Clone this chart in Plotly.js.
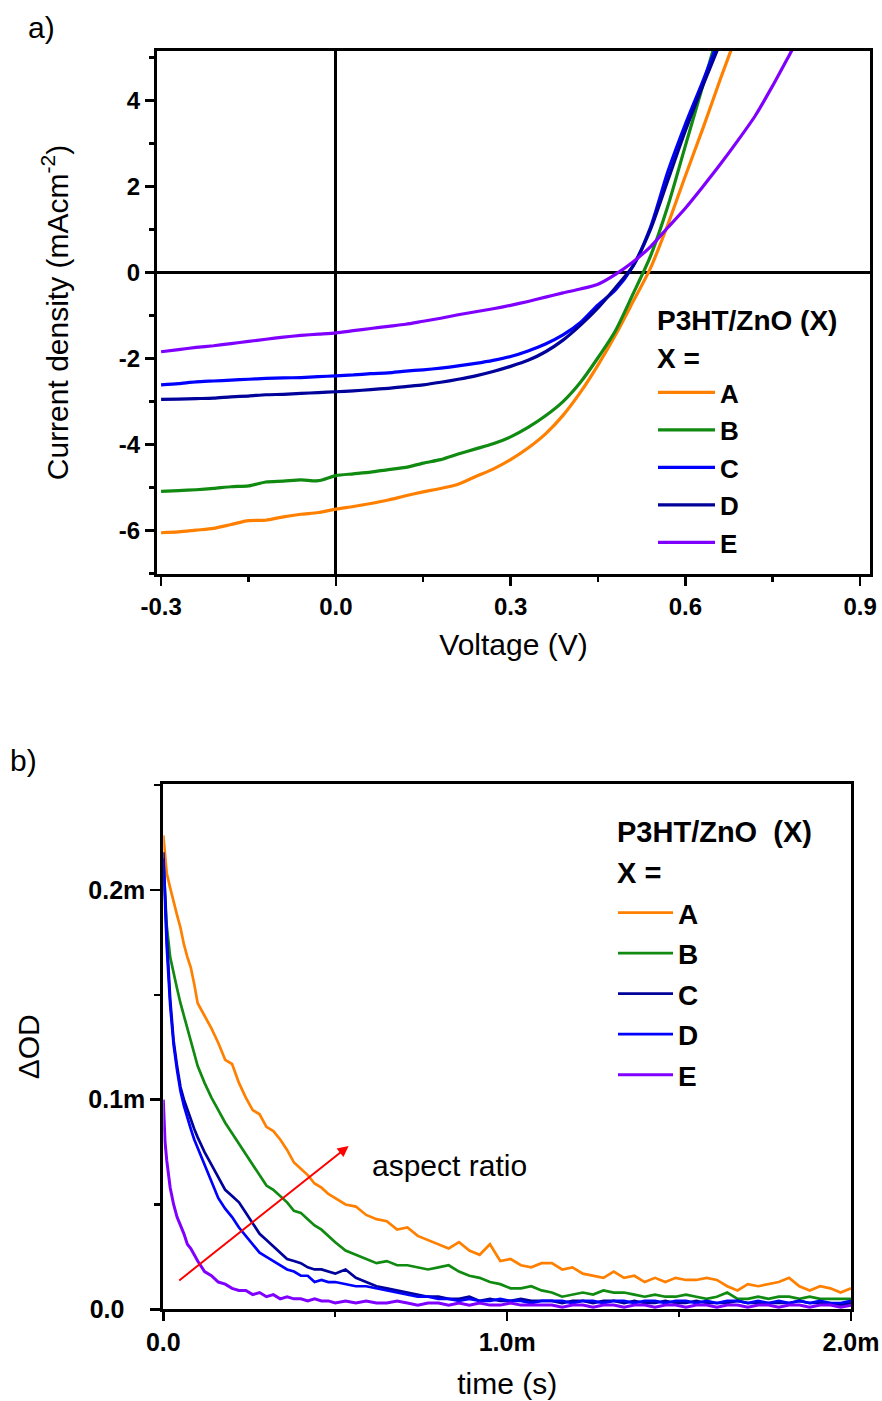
<!DOCTYPE html>
<html><head><meta charset="utf-8">
<script src="https://cdn.plot.ly/plotly-3.0.1.min.js"></script>
<style>html,body{margin:0;padding:0;background:#fff}</style>
</head><body>
<div id="chart" style="width:882px;height:1401px"></div>
<script>
// ---------- Panel a) J-V curves ----------
const voltage = [-0.30,-0.27,-0.24,-0.21,-0.18,-0.15,-0.12,-0.09,-0.06,-0.03,0.00,0.03,0.06,0.09,0.12,0.15,0.18,0.21,0.24,0.27,0.30,0.33,0.36,0.39,0.42,0.45,0.48,0.51,0.54,0.57,0.60,0.63,0.66,0.69,0.72,0.75,0.78,0.81];
const jvA = [-6.05,-6.03,-5.99,-5.95,-5.86,-5.77,-5.76,-5.68,-5.62,-5.58,-5.50,-5.44,-5.37,-5.29,-5.19,-5.10,-5.02,-4.92,-4.74,-4.57,-4.35,-4.08,-3.75,-3.32,-2.78,-2.15,-1.45,-0.68,0.10,1.12,2.25,3.35,4.50,5.60];
const jvB = [-5.09,-5.07,-5.05,-5.02,-4.98,-4.96,-4.87,-4.85,-4.82,-4.84,-4.72,-4.68,-4.64,-4.58,-4.53,-4.43,-4.35,-4.22,-4.10,-3.98,-3.82,-3.60,-3.33,-3.00,-2.55,-1.98,-1.35,-0.50,0.38,1.55,2.95,4.35,5.75];
const jvC = [-2.61,-2.58,-2.54,-2.52,-2.50,-2.48,-2.46,-2.45,-2.44,-2.42,-2.40,-2.38,-2.35,-2.33,-2.29,-2.26,-2.22,-2.17,-2.11,-2.04,-1.95,-1.82,-1.66,-1.45,-1.16,-0.75,-0.40,0.15,1.05,2.35,3.45,4.45,5.50];
const jvD = [-2.95,-2.94,-2.93,-2.92,-2.89,-2.87,-2.84,-2.83,-2.81,-2.79,-2.77,-2.75,-2.72,-2.69,-2.65,-2.61,-2.55,-2.48,-2.40,-2.30,-2.18,-2.04,-1.84,-1.57,-1.22,-0.82,-0.35,0.15,1.00,2.15,3.30,4.35,5.35];
const jvE = [-1.84,-1.79,-1.74,-1.70,-1.65,-1.60,-1.55,-1.50,-1.46,-1.43,-1.40,-1.35,-1.30,-1.25,-1.20,-1.13,-1.06,-0.98,-0.91,-0.84,-0.76,-0.67,-0.57,-0.47,-0.38,-0.27,-0.04,0.25,0.60,1.05,1.50,2.00,2.52,3.07,3.65,4.35,5.10,5.85];

const topXTickVals = [-0.3,0,0.3,0.6,0.9];
const topXTickText = ['-0.3','0.0','0.3','0.6','0.9'];
const topXMinor = [-0.15,0.15,0.45,0.75];
const topYTickVals = [-6,-4,-2,0,2,4];
const topYTickText = ['-6','-4','-2','0','2','4'];
const topYMinor = [-7,-5,-3,-1,1,3,5];

// ---------- Panel b) transient absorption decays (time in ms, ΔOD in mOD) ----------
const timeMs = [0,0.005,0.01,0.02,0.03,0.04,0.05,0.06,0.07,0.08,0.09,0.10,
 0.12,0.14,0.16,0.18,0.20,0.22,0.24,0.26,0.28,0.30,
 0.32,0.34,0.36,0.38,0.40,0.42,0.44,0.46,0.48,0.50,
 0.53,0.56,0.59,0.62,0.65,0.68,0.71,0.74,0.77,0.80,
 0.83,0.86,0.89,0.92,0.95,0.98,1.01,1.04,1.07,1.10,
 1.13,1.16,1.19,1.22,1.25,1.28,1.31,1.34,1.37,1.40,
 1.43,1.46,1.49,1.52,1.55,1.58,1.61,1.64,1.67,1.70,
 1.73,1.76,1.79,1.82,1.85,1.88,1.91,1.94,1.97,2.00];
const odA = [0.226,0.215,0.208,0.201,0.194,0.188,0.182,0.174,0.168,0.163,0.155,0.146,
 0.140,0.134,0.127,0.119,0.117,0.108,0.101,0.095,0.093,0.087,
 0.085,0.081,0.076,0.070,0.067,0.064,0.060,0.058,0.055,0.053,
 0.050,0.049,0.045,0.043,0.042,0.038,0.039,0.035,0.033,0.031,
 0.029,0.032,0.028,0.026,0.031,0.023,0.024,0.021,0.020,0.022,
 0.022,0.019,0.020,0.017,0.016,0.015,0.018,0.015,0.016,0.013,
 0.015,0.013,0.015,0.014,0.014,0.015,0.014,0.011,0.009,0.012,
 0.011,0.012,0.013,0.015,0.011,0.009,0.011,0.010,0.008,0.010];
const odB = [0.215,0.198,0.183,0.168,0.160,0.153,0.146,0.140,0.133,0.127,0.121,0.116,
 0.108,0.101,0.095,0.089,0.084,0.079,0.074,0.069,0.064,0.059,
 0.057,0.054,0.051,0.047,0.046,0.043,0.040,0.038,0.035,0.032,
 0.028,0.026,0.024,0.022,0.023,0.021,0.021,0.020,0.019,0.020,
 0.021,0.018,0.016,0.015,0.013,0.012,0.010,0.010,0.011,0.009,
 0.008,0.006,0.007,0.008,0.007,0.009,0.008,0.008,0.007,0.006,
 0.007,0.006,0.006,0.007,0.006,0.005,0.006,0.008,0.005,0.005,
 0.006,0.005,0.006,0.006,0.005,0.006,0.005,0.005,0.005,0.005];
const odC = [0.218,0.195,0.178,0.148,0.128,0.116,0.106,0.100,0.095,0.090,0.086,0.082,
 0.075,0.069,0.063,0.057,0.054,0.051,0.046,0.041,0.036,0.033,
 0.030,0.027,0.024,0.023,0.022,0.020,0.019,0.019,0.018,0.017,
 0.019,0.015,0.013,0.011,0.010,0.009,0.008,0.007,0.006,0.006,
 0.005,0.005,0.006,0.004,0.005,0.004,0.004,0.005,0.004,0.004,
 0.004,0.003,0.004,0.004,0.003,0.004,0.004,0.003,0.004,0.003,
 0.003,0.004,0.003,0.003,0.004,0.003,0.003,0.003,0.004,0.003,
 0.003,0.003,0.003,0.003,0.004,0.003,0.003,0.003,0.002,0.003];
const odD = [0.215,0.190,0.173,0.145,0.126,0.114,0.104,0.097,0.091,0.086,0.081,0.077,
 0.069,0.061,0.053,0.048,0.044,0.039,0.035,0.031,0.027,0.025,
 0.023,0.021,0.019,0.018,0.016,0.016,0.013,0.014,0.013,0.013,
 0.012,0.011,0.011,0.010,0.009,0.008,0.007,0.006,0.006,0.005,
 0.005,0.004,0.005,0.004,0.004,0.005,0.004,0.004,0.003,0.004,
 0.004,0.004,0.003,0.004,0.004,0.003,0.004,0.004,0.003,0.004,
 0.004,0.003,0.004,0.004,0.003,0.004,0.003,0.004,0.004,0.003,
 0.004,0.003,0.004,0.003,0.004,0.003,0.004,0.003,0.003,0.004];
const odE = [0.100,0.080,0.071,0.058,0.050,0.044,0.040,0.036,0.031,0.029,0.026,0.023,
 0.018,0.016,0.013,0.012,0.010,0.009,0.009,0.007,0.008,0.006,
 0.007,0.005,0.006,0.005,0.005,0.004,0.005,0.004,0.004,0.003,
 0.004,0.003,0.004,0.003,0.003,0.004,0.003,0.002,0.003,0.003,
 0.002,0.003,0.002,0.003,0.002,0.002,0.003,0.002,0.002,0.002,
 0.002,0.001,0.002,0.002,0.001,0.002,0.002,0.001,0.002,0.002,
 0.001,0.002,0.002,0.001,0.002,0.002,0.001,0.002,0.002,0.001,
 0.002,0.002,0.001,0.002,0.002,0.001,0.002,0.002,0.001,0.002];

const botXTickVals = [0,1,2];
const botXTickText = ['0.0','1.0m','2.0m'];
const botXMinor = [0.5,1.5];
const botYTickVals = [0,0.1,0.2];
const botYTickText = ['0.0&nbsp;&nbsp;&nbsp;','0.1m','0.2m'];
const botYMinor = [0.05,0.15,0.25];

const seriesNames = ['A','B','C','D','E'];
const topColors = ['#ff8000','#108a10','#0000ff','#00009a','#8000ff'];
const botColors = ['#ff8000','#108a10','#00009a','#0000ff','#8000ff'];
const arrowTail = [0.042, 0.0132];
const arrowHead = [0.539, 0.0779];
const arrowLabel = {t: 0.60, od: 0.0688, text: 'aspect ratio'};

const FONT = 'Liberation Sans, Arial, sans-serif';
const jvData = [jvA, jvB, jvC, jvD, jvE];
const odData = [odA, odB, odC, odD, odE];

const traces = [];
jvData.forEach((j, i) => {
  traces.push({
    type: 'scatter', mode: 'lines', name: seriesNames[i],
    x: voltage.slice(0, j.length), y: j, xaxis: 'x', yaxis: 'y',
    line: {color: topColors[i], width: 3.2, shape: 'spline', smoothing: 0.7},
    legend: 'legend', legendgroup: 'a' + i
  });
});
odData.forEach((d, i) => {
  traces.push({
    type: 'scatter', mode: 'lines', name: seriesNames[i],
    x: timeMs, y: d, xaxis: 'x2', yaxis: 'y2',
    line: {color: botColors[i], width: i === 4 ? 3 : 2.7},
    legend: 'legend2', legendgroup: 'b' + i
  });
});

const W = 882, H = 1401;
const axCommon = {
  showline: true, linecolor: '#000', linewidth: 3, mirror: true,
  ticks: 'outside', tickcolor: '#000', tickwidth: 2.5, ticklen: 9,
  showgrid: false, tickmode: 'array',
  tickfont: {family: FONT, size: 24, color: '#000', weight: 700}
};

const layout = {
  width: W, height: H,
  margin: {l: 0, r: 0, t: 0, b: 0},
  paper_bgcolor: '#fff', plot_bgcolor: '#fff',
  font: {family: FONT, color: '#000'},
  showlegend: true,
  xaxis: Object.assign({}, axCommon, {
    domain: [157/W, 870/W], anchor: 'y', range: [-0.307, 0.917],
    tickvals: topXTickVals, ticktext: topXTickText,
    minor: {tickmode: 'array', tickvals: topXMinor, ticks: 'outside', ticklen: 5, tickwidth: 2.5, tickcolor: '#000'},
    zeroline: true, zerolinecolor: '#000', zerolinewidth: 3,
    title: {text: 'Voltage (V)', font: {family: FONT, size: 30, color: '#000'}, standoff: 16}
  }),
  yaxis: Object.assign({}, axCommon, {
    domain: [1 - 574/H, 1 - 51/H], anchor: 'x', range: [-7.01, 5.156],
    tickvals: topYTickVals, ticktext: topYTickText,
    minor: {tickmode: 'array', tickvals: topYMinor, ticks: 'outside', ticklen: 5, tickwidth: 2.5, tickcolor: '#000'},
    zeroline: true, zerolinecolor: '#000', zerolinewidth: 3,
    title: {text: 'Current density (mAcm<sup>-2</sup>)', font: {family: FONT, size: 30, color: '#000'}, standoff: 42}
  }),
  xaxis2: Object.assign({}, axCommon, {
    domain: [163.3/W, 851/W], anchor: 'y2', range: [0, 2.0],
    tickvals: botXTickVals, ticktext: botXTickText, ticklen: 9,
    minor: {tickmode: 'array', tickvals: botXMinor, ticks: 'outside', ticklen: 5, tickwidth: 2.5, tickcolor: '#000'},
    zeroline: false,
    tickfont: {family: FONT, size: 25, color: '#000', weight: 700},
    title: {text: 'time (s)', font: {family: FONT, size: 30, color: '#000'}, standoff: 18}
  }),
  yaxis2: Object.assign({}, axCommon, {
    domain: [1 - 1309.3/H, 1 - 784.3/H], anchor: 'x2', range: [0, 0.2504],
    tickvals: botYTickVals, ticktext: botYTickText, ticklen: 10,
    minor: {tickmode: 'array', tickvals: botYMinor, ticks: 'outside', ticklen: 6, tickwidth: 2.5, tickcolor: '#000'},
    zeroline: false,
    tickfont: {family: FONT, size: 25, color: '#000', weight: 700},
    title: {text: 'ΔOD', font: {family: FONT, size: 30, color: '#000'}, standoff: 40}
  }),
  legend: {
    x: 653/W, y: 1 - 369/H, xanchor: 'left', yanchor: 'top',
    bgcolor: 'rgba(0,0,0,0)', borderwidth: 0,
    font: {family: FONT, size: 26, color: '#000', weight: 700},
    itemwidth: 57, traceorder: 'grouped', tracegroupgap: 0.7
  },
  legend2: {
    x: 613/W, y: 1 - 888/H, xanchor: 'left', yanchor: 'top',
    bgcolor: 'rgba(0,0,0,0)', borderwidth: 0,
    font: {family: FONT, size: 28, color: '#000', weight: 700},
    itemwidth: 55, traceorder: 'grouped', tracegroupgap: 1.1
  },
  annotations: [
    {xref: 'paper', yref: 'paper', x: 26/W, y: 1 - 28/H, xanchor: 'left', yanchor: 'middle', showarrow: false,
     text: 'a)', font: {family: FONT, size: 30, color: '#000'}},
    {xref: 'paper', yref: 'paper', x: 8/W, y: 1 - 760/H, xanchor: 'left', yanchor: 'middle', showarrow: false,
     text: 'b)', font: {family: FONT, size: 30, color: '#000'}},
    {xref: 'paper', yref: 'paper', x: 655/W, y: 1 - 321/H, xanchor: 'left', yanchor: 'middle', showarrow: false,
     text: 'P3HT/ZnO (X)', font: {family: FONT, size: 28, color: '#000', weight: 700}},
    {xref: 'paper', yref: 'paper', x: 655/W, y: 1 - 358/H, xanchor: 'left', yanchor: 'middle', showarrow: false,
     text: 'X =', font: {family: FONT, size: 28, color: '#000', weight: 700}},
    {xref: 'paper', yref: 'paper', x: 615/W, y: 1 - 832/H, xanchor: 'left', yanchor: 'middle', showarrow: false,
     text: 'P3HT/ZnO&nbsp; (X)', font: {family: FONT, size: 29, color: '#000', weight: 700}},
    {xref: 'paper', yref: 'paper', x: 615/W, y: 1 - 873/H, xanchor: 'left', yanchor: 'middle', showarrow: false,
     text: 'X =', font: {family: FONT, size: 29, color: '#000', weight: 700}},
    {xref: 'x2', yref: 'y2', x: arrowHead[0], y: arrowHead[1], axref: 'x2', ayref: 'y2',
     ax: arrowTail[0], ay: arrowTail[1], showarrow: true, text: '',
     arrowhead: 2, arrowsize: 1.1, arrowwidth: 2, arrowcolor: '#ff0000'},
    {xref: 'x2', yref: 'y2', x: arrowLabel.t, y: arrowLabel.od, xanchor: 'left', yanchor: 'middle', showarrow: false,
     text: arrowLabel.text, font: {family: FONT, size: 30, color: '#000'}}
  ]
};

Plotly.newPlot('chart', traces, layout, {staticPlot: true, displayModeBar: false});
</script>
</body></html>
